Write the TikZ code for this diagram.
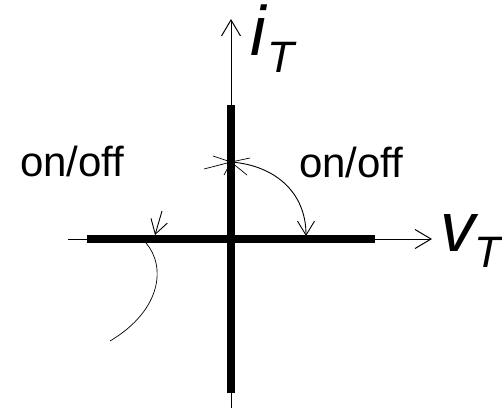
\documentclass[tikz,border=0pt]{standalone}
\usepackage{fontspec}
\setmainfont{Liberation Sans}
\usetikzlibrary{arrows.meta}
\tikzset{
  axis/.style={line width=1pt, -{Straight Barb[length=16pt, width=19pt, line width=1pt]}},
  bar/.style={line width=8pt},
  sw/.style={line width=0.7pt},
  swarrow/.style={line width=0.9pt, -{Straight Barb[length=14pt, width=17pt, line width=0.9pt]}},
  lbl/.style={inner sep=0pt, anchor=base west, font=\fontsize{42}{48}\selectfont},
  var/.style={inner sep=0pt, anchor=base west, font=\fontsize{70}{76}\selectfont\itshape}
}
\begin{document}
\begin{tikzpicture}[x=1pt, y=-1pt]
\useasboundingbox (0,0) rectangle (502,408);
% Achsen
\coordinate (O)  at (231,239);
\coordinate (xa) at (68,239);
\coordinate (xe) at (432,239);
\coordinate (ya) at (231,408);
\coordinate (ye) at (231,19);
\draw[axis] (xa) -- (xe);
\draw[axis] (ya) -- (ye);
% Kennlinie (dicke Balken)
\coordinate (b1) at (87,239);
\coordinate (b2) at (375,239);
\coordinate (b3) at (231,105);
\coordinate (b4) at (231,393);
\draw[bar] (b1) -- (b2);
\draw[bar] (b3) -- (b4);
% Schaltvorgang rechts
\coordinate (S)  at (231,162);
\coordinate (R1) at (306,236);
\foreach \dx/\dy in {-27/7, -18/-6, -7/13, 19/-4, 16/13}
  \draw[sw] (S) -- ++(\dx,\dy);
\draw[swarrow] (S) .. controls (272,165) and (306,190) .. (R1);
% Schaltvorgang links
\coordinate (L0) at (162,211);
\coordinate (L1) at (155,235);
\coordinate (C0) at (146,243);
\coordinate (C1) at (110,341);
\draw[swarrow] (L0) -- (L1);
\draw[sw] (C0) .. controls (166,266) and (162,310) .. (C1);
% Beschriftung
\node[lbl] (onl) at (20,176) {on/off};
\node[lbl] (onr) at (299,177) {on/off};
\node[var] (iT) at (250,55) {i\kern2pt\raisebox{-17pt}{\fontsize{44}{44}\selectfont T}};
\node[var] (vT) at (440,251) {v\kern-1pt\raisebox{-16pt}{\fontsize{44}{44}\selectfont T}};
\end{tikzpicture}
\end{document}
